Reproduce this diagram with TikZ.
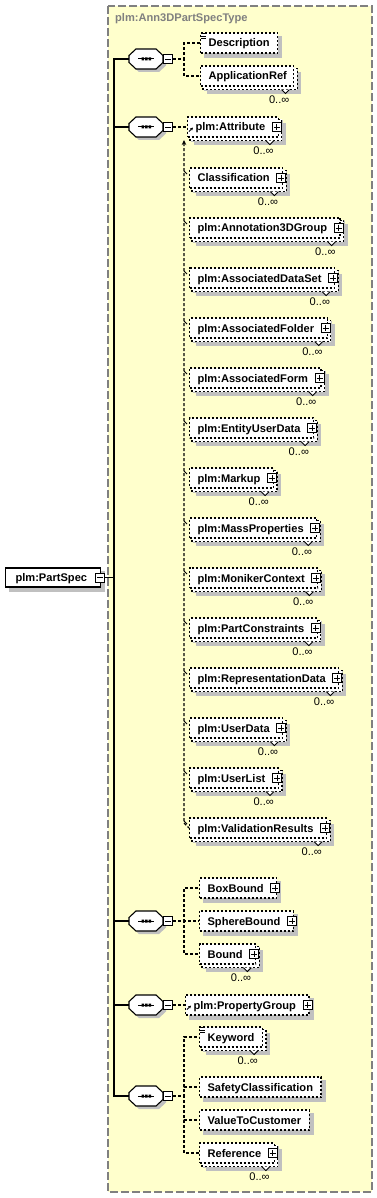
\documentclass[tikz,border=0pt]{standalone}
\usepackage{fontspec}
\setmainfont{Liberation Sans}
\usetikzlibrary{arrows.meta}
\pgfdeclarelayer{ylw}
\pgfdeclarelayer{shd}
\pgfdeclarelayer{stk}
\pgfsetlayers{ylw,shd,stk,main}
\definecolor{ylwfill}{RGB}{255,255,204}
\definecolor{shdgray}{RGB}{192,192,192}
\definecolor{ttlgray}{RGB}{128,128,128}
\newcommand{\elfont}{\fontsize{11.1pt}{13pt}\selectfont\bfseries}
\newcommand{\occfont}{\fontsize{11.1pt}{13pt}\selectfont}
\tikzset{
  elbox/.style={draw, line width=1.15pt, dash pattern=on 2pt off 2pt, fill=white, font=\elfont,
    inner xsep=0pt, inner ysep=0pt, minimum height=20pt, anchor=west, text height=8pt, text depth=0pt},
  conn/.style={line width=1.15pt, dash pattern=on 3pt off 2pt},
  solidln/.style={line width=1.1pt},
  pbox/.style={draw, solid, line width=1pt, fill=white, minimum size=9pt, inner sep=0pt},
  occlbl/.style={font=\occfont, anchor=east, inner sep=0pt},
}
\newcommand{\xel}[5]{%
  \node[elbox] (#1) at (#2,#3) {\hspace*{8pt}#4\hspace*{#5pt}};
  \begin{pgfonlayer}{shd}\fill[shdgray] ([shift={(4,4)}]#1.north west) rectangle ([shift={(4,4)}]#1.south east);\end{pgfonlayer}}
\newcommand{\xstk}[1]{%
  \begin{pgfonlayer}{stk}\draw[line width=1.15pt, dash pattern=on 2pt off 2pt, fill=white] ([shift={(3,3)}]#1.north west) rectangle ([shift={(3,3)}]#1.south east);\end{pgfonlayer}%
  \begin{pgfonlayer}{shd}\fill[shdgray] ([shift={(7,7)}]#1.north west) rectangle ([shift={(7,7)}]#1.south east);\end{pgfonlayer}}
\newcommand{\xocc}[1]{%
  \draw[line width=0.9pt, fill=white] ([shift={(-13,3)}]#1.south east) -- ([shift={(-9,7)}]#1.south east) -- ([shift={(-5,3)}]#1.south east);
  \node[occlbl] (#1-occ) at ([shift={(-5,13)}]#1.south east) {0..∞};}
\newcommand{\xplus}[1]{%
  \node[pbox] (#1-pl) at ([xshift=-2pt]#1.east) {};
  \draw[line width=0.8pt] ([xshift=2pt]#1-pl.west) -- ([xshift=-2pt]#1-pl.east) ([yshift=-2pt]#1-pl.north) -- ([yshift=2pt]#1-pl.south);}
\newcommand{\xdoc}[1]{%
  \draw[line width=0.8pt] ([shift={(1,1)}]#1.north west) -- ++(5,0) ([shift={(1,3.5)}]#1.north west) -- ++(5,0) ([shift={(1,6)}]#1.north west) -- ++(5,0);}
\newcommand{\xref}[1]{%
  \draw[line width=0.9pt, -{Stealth[length=3pt,width=3pt]}] ([shift={(2,-6)}]#1.south west) -- ([shift={(6,-10)}]#1.south west);}
\newcommand{\xseq}[2]{%
  \begin{pgfonlayer}{shd}\fill[shdgray] (139,#2-7) -- (159,#2-7) -- (166,#2-0.5) -- (166,#2+6.5) -- (159,#2+13) -- (139,#2+13) -- (132,#2+6.5) -- (132,#2-0.5) -- cycle;\end{pgfonlayer}
  \node[inner sep=0pt, minimum width=34pt, minimum height=20pt] (#1) at (146,#2) {};
  \draw[line width=1.1pt, fill=white] (136,#2-10) -- (156,#2-10) -- (163,#2-3.5) -- (163,#2+3.5) -- (156,#2+10) -- (136,#2+10) -- (129,#2+3.5) -- (129,#2-3.5) -- cycle;
  \draw[line width=1pt] (138,#2) -- (154,#2);
  \fill (141.5,#2-1.5) rectangle (144,#2+1.5) (145,#2-1.5) rectangle (147.5,#2+1.5) (148.5,#2-1.5) rectangle (151,#2+1.5);
  \node[pbox] (#1m) at (168,#2) {};
  \draw[line width=0.8pt] ([xshift=2pt]#1m.west) -- ([xshift=-2pt]#1m.east);}
\newcommand{\xsub}[3]{% name, y, text
  \xel{#1}{189}{#2}{#3}{13}\xstk{#1}\xplus{#1}\xocc{#1}
  \draw[line width=0.9pt] ([shift={(-5,-7)}]#1.west) -- ([shift={(-2,-4)}]#1.west);}
\begin{document}
\begin{tikzpicture}[x=1pt,y=-1pt]
\useasboundingbox (0,0) rectangle (377,1198);
\begin{pgfonlayer}{ylw}
\draw[draw=ttlgray, line width=1.2pt, dash pattern=on 8pt off 3pt, fill=ylwfill] (108,6) rectangle (372,1192);
\end{pgfonlayer}
\node[font=\elfont, text=ttlgray, anchor=west, inner sep=0pt] (title) at (115,19) {plm:Ann3DPartSpecType};

% root element
\node[draw, line width=1.1pt, fill=white, font=\elfont, inner xsep=0pt, inner ysep=0pt, minimum height=19pt,
  anchor=west, text height=8pt, text depth=0pt] (ps) at (5,577.5) {\hspace*{10pt}plm:PartSpec\hspace*{13pt}};
\begin{pgfonlayer}{shd}\fill[shdgray] ([shift={(4,4)}]ps.north west) rectangle ([shift={(4,4)}]ps.south east);\end{pgfonlayer}
\node[pbox] (psm) at ([xshift=-0.5pt]ps.east) {};
\draw[line width=0.8pt] ([xshift=2pt]psm.west) -- ([xshift=-2pt]psm.east);

% sequences
\xseq{s1}{59}
\xseq{s2}{127}
\xseq{s3}{921}
\xseq{s4}{1005}
\xseq{s5}{1096}

\coordinate (tr) at (114,577.5);
\draw[solidln] (psm.east) -- (tr);
\foreach \s in {s1,s2,s3,s4,s5} {\draw[solidln] (\s.west) -| (tr);}

% sequence 1
\xel{desc}{200}{43}{Description}{8}\xdoc{desc}
\xel{appref}{200}{76}{ApplicationRef}{7}\xstk{appref}\xocc{appref}
\draw[conn] (s1m.east) -- ++(11,0) |- (desc.west);
\draw[conn] (s1m.east) -- ++(11,0) |- (appref.west);

% sequence 2
\xel{attr}{187}{127}{plm:Attribute}{13}\xstk{attr}\xplus{attr}\xocc{attr}\xref{attr}
\draw[conn] (s2m.east) -- (attr.west);
\xsub{classif}{178}{Classification}
\xsub{anng}{228}{plm:Annotation3DGroup}
\xsub{assocds}{278}{plm:AssociatedDataSet}
\xsub{assocfld}{328}{plm:AssociatedFolder}
\xsub{assocfrm}{378}{plm:AssociatedForm}
\xsub{eud}{428}{plm:EntityUserData}
\xsub{markup}{478}{plm:Markup}
\xsub{massp}{528}{plm:MassProperties}
\xsub{moniker}{578}{plm:MonikerContext}
\xsub{partc}{628}{plm:PartConstraints}
\xsub{repd}{678}{plm:RepresentationData}
\xsub{userd}{728}{plm:UserData}
\xsub{userl}{778}{plm:UserList}
\xsub{valres}{828}{plm:ValidationResults}
\coordinate (subtop) at (184,140);
\coordinate (subbot) at (184,823);
\draw[conn, {Stealth[length=5pt,width=4.5pt]}-] (subtop) -- (subbot) -- (valres.west);

% sequence 3
\xel{boxb}{199}{888}{BoxBound}{13}\xplus{boxb}
\xel{sphb}{199}{921}{SphereBound}{13}\xplus{sphb}
\xel{bound}{199}{954}{Bound}{13}\xstk{bound}\xplus{bound}\xocc{bound}
\draw[conn] (s3m.east) -- ++(11,0) |- (boxb.west);
\draw[conn] (s3m.east) -- (sphb.west);
\draw[conn] (s3m.east) -- ++(11,0) |- (bound.west);

% sequence 4
\xel{propg}{185}{1005}{plm:PropertyGroup}{13}\xplus{propg}\xref{propg}
\draw[conn] (s4m.east) -- (propg.west);

% sequence 5
\xel{keyword}{199}{1037}{Keyword}{8}\xstk{keyword}\xocc{keyword}\xdoc{keyword}
\xel{safety}{199}{1087}{SafetyClassification}{8}
\xel{vtc}{199}{1120}{ValueToCustomer}{8}
\xel{refer}{199}{1153}{Reference}{13}\xstk{refer}\xplus{refer}\xocc{refer}
\draw[conn] (s5m.east) -- ++(11,0) |- (keyword.west);
\draw[conn] (s5m.east) -- ++(11,0) |- (safety.west);
\draw[conn] (s5m.east) -- ++(11,0) |- (vtc.west);
\draw[conn] (s5m.east) -- ++(11,0) |- (refer.west);
\end{tikzpicture}
\end{document}
